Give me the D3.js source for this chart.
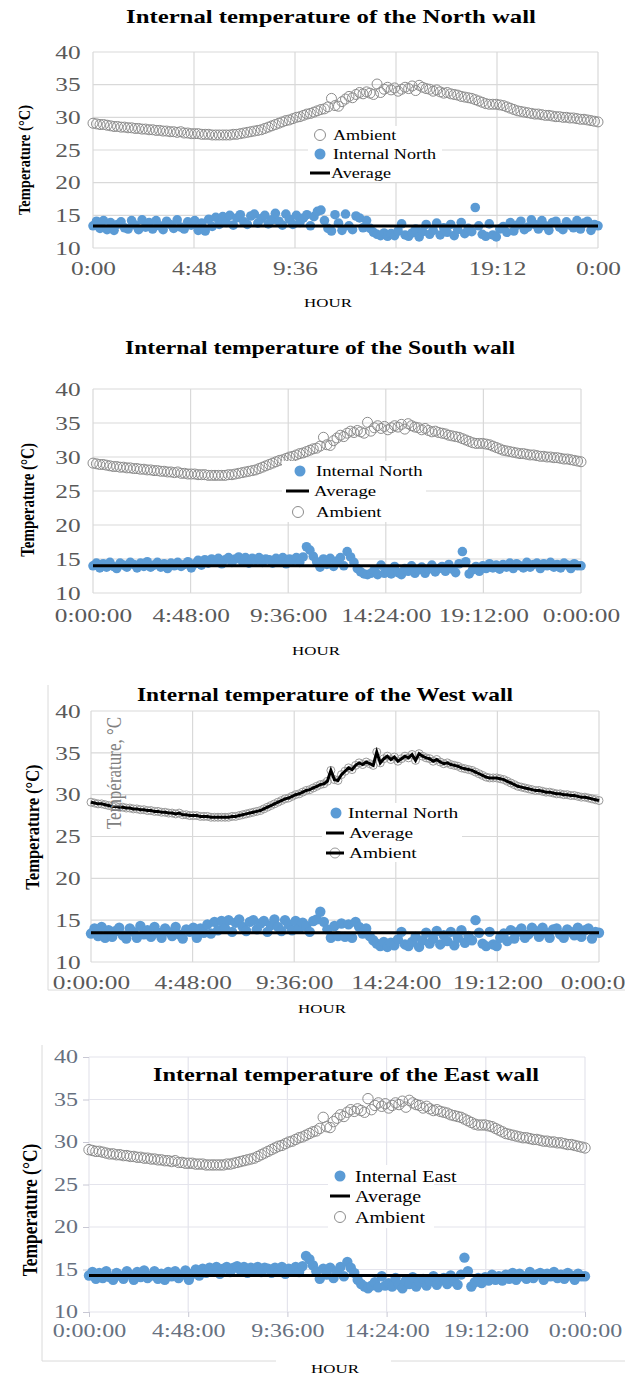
<!DOCTYPE html>
<html>
<head>
<meta charset="utf-8">
<script src="https://cdn.jsdelivr.net/npm/d3@7"></script>
<style>
body { margin: 0; background: #fff; }
svg { display: block; font-family: "Liberation Serif", "Times New Roman", serif; }
</style>
</head>
<body>
<div id="chart"></div>
<script>
// readings every 10 minutes, 0:00 -> 24:00
var hours = d3.range(145).map(function (i) { return i / 6; });

var ambient = [
    29.1, 29.0, 28.9, 28.9, 28.8, 28.7,
    28.6, 28.6, 28.5, 28.5, 28.4, 28.4,
    28.3, 28.3, 28.2, 28.2, 28.1, 28.1,
    28.0, 28.0, 27.9, 27.9, 27.8, 27.8,
    27.7, 27.8, 27.6, 27.6, 27.5, 27.5,
    27.5, 27.4, 27.4, 27.4, 27.3, 27.3,
    27.3, 27.3, 27.3, 27.3, 27.4, 27.4,
    27.5, 27.6, 27.7, 27.8, 27.9, 28.0,
    28.1, 28.3, 28.5, 28.7, 28.9, 29.1,
    29.3, 29.5, 29.6, 29.8, 30.0, 30.1,
    30.3, 30.5, 30.6, 30.8, 31.0, 31.2,
    31.3, 31.6, 32.9, 31.8, 31.7, 32.4,
    32.8, 33.2, 33.0, 33.5, 33.8, 33.6,
    33.9, 33.7, 33.5, 35.1, 33.8, 34.3,
    34.6, 34.2, 34.5, 34.0, 34.3, 34.6,
    34.4, 34.8, 34.1, 34.9, 34.6, 34.4,
    34.3, 34.0, 34.2, 33.9, 33.7, 33.8,
    33.6, 33.5, 33.4, 33.2, 33.1, 33.0,
    32.9, 32.7, 32.5, 32.3, 32.1, 32.0,
    32.0, 32.0, 31.9, 31.8, 31.6, 31.4,
    31.2, 31.0, 30.9, 30.8, 30.7, 30.6,
    30.5, 30.5, 30.4, 30.3, 30.3, 30.2,
    30.1, 30.1, 30.0, 30.0, 29.9, 29.9,
    29.8, 29.7, 29.7, 29.6, 29.5, 29.4,
    29.3];

var internalNorth = [
    13.4, 14.1, 13.0, 14.2, 12.8, 13.9,
    12.7, 13.6, 14.0, 13.1, 12.9, 14.2,
    13.5, 12.8, 14.3, 13.2, 13.9, 12.9,
    14.2, 13.4, 12.8, 14.1, 13.6, 13.0,
    14.3, 13.2, 12.9, 14.0, 13.5, 14.2,
    12.7, 13.8, 12.6, 14.4, 13.3, 14.7,
    13.6, 14.8, 13.9, 15.0, 13.5, 14.6,
    15.1, 14.0, 13.6, 14.9, 15.2, 13.8,
    14.5, 15.0, 13.7, 14.3, 15.3, 14.1,
    13.5, 15.2, 14.4, 13.6, 15.0, 13.9,
    14.6, 15.1, 13.4, 14.8, 15.6, 15.8,
    14.2, 13.0, 12.6, 15.1, 13.8, 12.7,
    15.2, 13.4, 12.8, 14.9, 14.6, 13.1,
    14.2, 13.0, 12.4, 12.1, 11.9, 12.3,
    11.8, 12.2, 11.9, 12.6, 13.7, 12.0,
    11.8, 12.3, 12.9, 11.7, 12.5, 13.6,
    12.1, 12.7, 13.8, 12.0, 13.1, 12.4,
    13.6, 11.9, 12.8, 13.9, 12.2, 13.0,
    12.5, 16.2, 13.4, 12.1, 11.8, 13.7,
    12.0, 11.7, 12.9, 13.3, 12.4, 13.9,
    12.6, 13.5, 14.1, 12.8, 13.2, 14.3,
    13.6, 12.9, 14.2, 13.4, 12.7, 13.9,
    14.1, 13.2, 12.8, 14.0, 13.5, 13.1,
    14.2, 12.9, 13.8, 14.1, 12.7, 13.6,
    13.4];

var internalSouth = [
    14.0, 14.4, 13.7, 14.3, 13.8, 14.5,
    13.9, 13.6, 14.4, 14.1, 13.8, 14.5,
    14.2, 13.7, 14.4, 13.9, 14.6, 13.8,
    14.1, 14.5, 13.8, 14.3, 13.6, 14.4,
    14.0, 14.5, 13.9, 14.2, 14.6, 13.7,
    14.3, 14.8, 14.1, 14.9, 14.4, 15.0,
    14.6, 15.1, 14.3, 14.9, 15.2, 14.5,
    15.0, 15.3, 14.7, 15.2, 14.4, 15.1,
    14.8, 15.2, 14.5, 15.0, 14.9, 14.4,
    15.1, 14.6, 15.2, 14.3, 15.0, 14.8,
    15.2, 14.5, 15.3, 16.8, 16.3, 15.4,
    14.6, 13.8, 15.0, 14.2, 15.1, 13.9,
    14.7, 15.2, 14.0, 16.1, 15.3, 14.5,
    13.6, 13.1, 12.8, 12.7, 12.9, 13.4,
    12.7, 14.1, 12.9, 13.3, 12.8, 13.9,
    13.0, 12.7, 13.6, 13.2, 14.0, 12.9,
    13.4, 13.8, 12.9, 13.5, 14.1, 13.1,
    13.6, 13.9, 13.2, 14.2, 13.5, 13.0,
    14.3, 16.1, 14.6, 12.8, 13.4, 13.9,
    13.2, 14.0, 13.6, 14.3, 13.7, 14.1,
    13.5, 14.2, 13.8, 14.4, 13.6, 14.3,
    14.0, 13.7, 14.5, 13.8, 14.2, 14.4,
    13.6, 14.3, 14.0, 14.5, 13.8, 14.2,
    13.7, 14.4, 14.1, 13.6, 14.3, 14.0,
    14.0];

var internalWest = [
    13.4, 14.0, 13.1, 14.2, 12.9, 13.8,
    13.0, 13.7, 14.1, 13.2, 12.8, 14.0,
    13.6, 12.9, 14.3, 13.3, 13.8, 13.0,
    14.2, 13.5, 12.9, 14.0, 13.6, 13.1,
    14.2, 13.3, 12.8, 13.9, 13.6, 14.1,
    12.9, 14.0, 13.5, 14.5, 13.4, 14.8,
    13.8, 14.9, 14.0, 15.0, 13.6, 14.7,
    15.1, 14.2, 13.7, 14.8, 15.0, 13.9,
    14.6, 14.9, 13.6, 14.4, 15.1, 14.2,
    13.7, 15.0, 14.5, 13.8, 14.9, 14.0,
    14.7, 14.3, 13.6, 14.9, 15.1, 16.0,
    14.8, 13.9, 12.9, 14.3, 13.1, 14.6,
    13.0, 14.5, 12.9, 14.8, 14.2, 13.4,
    14.0, 13.1, 12.6, 12.2, 11.9, 12.4,
    11.8, 12.3, 12.0, 12.7, 13.6, 12.1,
    11.9, 12.4, 13.0, 11.8, 12.6, 13.5,
    12.2, 12.8, 13.7, 12.1, 13.2, 12.5,
    13.6, 12.0, 12.9, 13.8, 12.3, 13.1,
    12.6, 15.0, 13.5, 12.2, 11.9, 13.6,
    12.1, 11.9, 12.9, 13.4, 12.5, 13.8,
    12.8, 13.6, 14.0, 12.9, 13.3, 14.1,
    13.7, 13.0, 14.1, 13.5, 12.9, 13.9,
    14.0, 13.3, 12.9, 13.9, 13.6, 13.2,
    14.1, 13.0, 13.8, 14.0, 12.8, 13.6,
    13.5];

var internalEast = [
    14.3, 14.7, 13.9, 14.6, 14.0, 14.8,
    14.1, 13.8, 14.6, 14.3, 13.9, 14.8,
    14.4, 13.8, 14.7, 14.1, 14.9, 14.0,
    14.3, 14.8, 13.9, 14.5, 13.8, 14.7,
    14.2, 14.8, 14.0, 14.4, 14.9, 13.8,
    14.5, 15.0, 14.3, 15.1, 14.6, 15.2,
    14.8, 15.3, 14.5, 15.1, 15.3, 14.7,
    15.2, 15.4, 14.9, 15.3, 14.6, 15.2,
    15.0, 15.3, 14.7, 15.2, 15.1, 14.6,
    15.2, 14.8, 15.3, 14.5, 15.1, 14.9,
    15.3, 14.7, 15.4, 16.6, 16.2, 15.5,
    14.8, 13.9, 15.1, 14.4, 15.2, 14.0,
    14.8, 15.3, 14.2, 15.9, 15.2, 14.6,
    13.8, 13.3, 13.0, 12.8, 13.1, 13.5,
    12.9, 14.2, 13.1, 13.4, 13.0, 14.0,
    13.2, 12.8, 13.7, 13.3, 14.1, 13.0,
    13.5, 13.9, 13.1, 13.6, 14.2, 13.2,
    13.7, 14.0, 13.3, 14.3, 13.6, 13.2,
    14.4, 16.4, 14.8, 13.0, 13.5, 14.0,
    13.4, 14.1, 13.7, 14.4, 13.8, 14.2,
    13.7, 14.4, 13.9, 14.6, 13.8, 14.5,
    14.2, 13.9, 14.7, 14.0, 14.4, 14.6,
    13.8, 14.5, 14.2, 14.7, 14.0, 14.4,
    13.9, 14.6, 14.3, 13.8, 14.5, 14.2,
    14.2];

// average line of each wall
var averages = { North: 13.35, South: 14.0, West: 13.5, East: 14.3 };

var tickHours = [0, 4.8, 9.6, 14.4, 19.2, 24];
var tickShort = ["0:00", "4:48", "9:36", "14:24", "19:12", "0:00"];
var tickLong = ["0:00:00", "4:48:00", "9:36:00", "14:24:00", "19:12:00", "0:00:00"];
var tempTicks = [10, 15, 20, 25, 30, 35, 40];

var SX = 1.3; // the source picture is stretched sideways
var BLUE = "#5b9bd5";

var panels = [
    {
        wall: "North", data: internalNorth, title: "Internal temperature of the North wall",
        x0: 93, x1: 598, yTop: 52, yBot: 248, titleX: 331, titleY: 23, titleW: 410,
        labels: tickShort, xPad: 13, yPad: 8.5, tickLen: 0, tickFont: 19.5, tickColor: "#595959", grid: "#d9d9d9",
        hourX: 328, hourY: 302, ytX: 24, ytY: 160, ytSize: 14.5, legFont: 14.5, dotR: 4.8, ambR: 5,
        box: [308, 126, 134, 56],
        legend: [
            { k: "amb", y: 135, mx: 320, tx: 333, label: "Ambient" },
            { k: "int", y: 154, mx: 320, tx: 333, label: "Internal North" },
            { k: "avg", y: 173, lx: [310, 330], tx: 331, label: "Average" }
        ]
    },
    {
        wall: "South", data: internalSouth, title: "Internal temperature of the South wall",
        x0: 93, x1: 581, yTop: 389, yBot: 593, titleX: 320, titleY: 354, titleW: 390,
        labels: tickLong, xPad: 15, yPad: 8.5, tickLen: 0, tickFont: 19.5, tickColor: "#595959", grid: "#d9d9d9",
        hourX: 316, hourY: 650, ytX: 28, ytY: 500, ytSize: 15, legFont: 15, dotR: 4.8, ambR: 5,
        box: [282, 461, 144, 61],
        legend: [
            { k: "int", y: 471, mx: 300, tx: 316, label: "Internal North" },
            { k: "avg", y: 491, lx: [286, 309], tx: 314, label: "Average" },
            { k: "amb", y: 512, mx: 298, tx: 316, label: "Ambient" }
        ]
    },
    {
        wall: "West", data: internalWest, title: "Internal temperature of the West wall",
        x0: 91, x1: 599, yTop: 711, yBot: 962, titleX: 325, titleY: 701, titleW: 376,
        labels: tickLong, xPad: 13, yPad: 7, tickLen: 0, tickFont: 19.5, tickColor: "#595959", grid: "#d9d9d9",
        hourX: 322, hourY: 1008, ytX: 32, ytY: 827, ytSize: 16.5, legFont: 15.5, dotR: 5.2, ambR: 4,
        box: [322, 803, 140, 59], ambLine: true,
        frame: [[48, 685, 48, 990], [48, 990, 625, 990]],
        legend: [
            { k: "int", y: 813, mx: 336, tx: 348, label: "Internal North" },
            { k: "avg", y: 833, lx: [326, 344], tx: 349, label: "Average" },
            { k: "ambline", y: 853, mx: 335, lx: [326, 344], tx: 349, label: "Ambient" }
        ]
    },
    {
        wall: "East", data: internalEast, title: "Internal temperature of the East wall",
        x0: 89, x1: 585, yTop: 1057, yBot: 1312, titleX: 346, titleY: 1081, titleW: 386,
        labels: tickLong, xPad: 7, yPad: 2.5, tickLen: 5, tickFont: 18.5, tickColor: "#66707f", grid: "#e4e4ec",
        hourX: 335, hourY: 1368, ytX: 30, ytY: 1210, ytSize: 17.5, legFont: 16, dotR: 5.2, ambR: 5.2,
        box: [328, 1165, 106, 63],
        frame: [[42, 1045, 42, 1361], [42, 1361, 276, 1361], [391, 1361, 625, 1361]],
        legend: [
            { k: "int", y: 1176, mx: 340, tx: 355, label: "Internal East" },
            { k: "avg", y: 1196, lx: [330, 350], tx: 355, label: "Average" },
            { k: "amb", y: 1217, mx: 340, tx: 355, label: "Ambient" }
        ]
    }
];

var svg = d3.select("#chart").append("svg").attr("width", 625).attr("height", 1376);

function stext(g, x, y, str, size, o) {
    o = o || {};
    return g.append("text")
        .attr("transform", "translate(" + x + "," + y + ") scale(" + (o.sx || SX) + ",1)")
        .attr("text-anchor", o.anchor || "start")
        .attr("dy", "0.35em")
        .attr("font-size", size)
        .attr("font-weight", o.weight || "normal")
        .attr("fill", o.fill || "#000")
        .text(str);
}

panels.forEach(function (p) {
    var g = svg.append("g");
    var x = d3.scaleLinear().domain([0, 24]).range([p.x0, p.x1]);
    var y = d3.scaleLinear().domain([10, 40]).range([p.yBot, p.yTop]);

    if (p.frame) {
        p.frame.forEach(function (f) {
            g.append("line").attr("x1", f[0]).attr("y1", f[1]).attr("x2", f[2]).attr("y2", f[3])
                .attr("stroke", "#dadada").attr("stroke-width", 1);
        });
    }

    // grid
    g.selectAll(".hg").data(tempTicks).enter().append("line")
        .attr("x1", p.x0).attr("x2", p.x1)
        .attr("y1", function (d) { return y(d); }).attr("y2", function (d) { return y(d); })
        .attr("stroke", p.grid).attr("stroke-width", 1.2);
    g.selectAll(".vg").data(tickHours).enter().append("line")
        .attr("x1", function (d) { return x(d); }).attr("x2", function (d) { return x(d); })
        .attr("y1", p.yTop).attr("y2", p.yBot)
        .attr("stroke", p.grid).attr("stroke-width", 1.2);

    // axes
    var ax = g.append("g").attr("transform", "translate(0," + p.yBot + ")")
        .call(d3.axisBottom(x).tickValues(tickHours)
            .tickFormat(function (d, i) { return p.labels[i]; })
            .tickSize(p.tickLen).tickPadding(p.xPad));
    var ay = g.append("g").attr("transform", "translate(" + p.x0 + ",0)")
        .call(d3.axisLeft(y).tickValues(tempTicks).tickSize(p.tickLen + 1).tickPadding(p.yPad));
    [ax, ay].forEach(function (a) {
        a.select(".domain").remove();
        a.attr("font-family", null).attr("font-size", p.tickFont);
        a.selectAll("line").attr("stroke", p.tickLen ? "#c8c8d4" : "none");
        a.selectAll("text").attr("fill", p.tickColor).attr("transform", "scale(" + SX + ",1)");
    });

    // ambient
    if (p.ambLine) {
        g.selectAll(".amb").data(ambient).enter().append("circle")
            .attr("cx", function (d, i) { return x(hours[i]); })
            .attr("cy", function (d) { return y(d); })
            .attr("r", p.ambR).attr("fill", "none").attr("stroke", "#9a9a9a").attr("stroke-width", 1);
        g.append("path").datum(ambient)
            .attr("d", d3.line().x(function (d, i) { return x(hours[i]); }).y(function (d) { return y(d); }))
            .attr("fill", "none").attr("stroke", "#000").attr("stroke-width", 3);
    } else {
        g.selectAll(".amb").data(ambient).enter().append("circle")
            .attr("cx", function (d, i) { return x(hours[i]); })
            .attr("cy", function (d) { return y(d); })
            .attr("r", p.ambR).attr("fill", "none").attr("stroke", "#8c8c8c").attr("stroke-width", 1);
    }

    // internal wall temperature
    g.selectAll(".int").data(p.data).enter().append("circle")
        .attr("cx", function (d, i) { return x(hours[i]); })
        .attr("cy", function (d) { return y(d); })
        .attr("r", p.dotR).attr("fill", BLUE);

    // average
    g.append("line")
        .attr("x1", x(0)).attr("x2", x(24))
        .attr("y1", y(averages[p.wall])).attr("y2", y(averages[p.wall]))
        .attr("stroke", "#000").attr("stroke-width", 3);

    // title
    g.append("text").attr("x", p.titleX).attr("y", p.titleY)
        .attr("text-anchor", "middle").attr("font-size", 19).attr("font-weight", "bold")
        .attr("textLength", p.titleW).attr("lengthAdjust", "spacingAndGlyphs")
        .text(p.title);

    stext(g, p.hourX, p.hourY, "HOUR", 13, { anchor: "middle" });

    g.append("text")
        .attr("transform", "translate(" + p.ytX + "," + p.ytY + ") scale(1.2,1) rotate(-90)")
        .attr("text-anchor", "middle").attr("dy", "0.35em")
        .attr("font-size", p.ytSize).attr("font-weight", "bold")
        .text("Temperature (\u00b0C)");

    if (p.wall === "West") {
        g.append("text")
            .attr("transform", "translate(114,773) scale(1.2,1) rotate(-90)")
            .attr("text-anchor", "middle").attr("dy", "0.35em")
            .attr("font-size", 17).attr("fill", "#808080")
            .text("Temp\u00e9rature, \u00b0C");
    }

    // legend
    g.append("rect").attr("x", p.box[0]).attr("y", p.box[1])
        .attr("width", p.box[2]).attr("height", p.box[3]).attr("fill", "#fff");
    p.legend.forEach(function (r) {
        if (r.k === "amb") {
            g.append("circle").attr("cx", r.mx).attr("cy", r.y).attr("r", 5.5)
                .attr("fill", "#fff").attr("stroke", "#8c8c8c").attr("stroke-width", 1);
        } else if (r.k === "int") {
            g.append("circle").attr("cx", r.mx).attr("cy", r.y).attr("r", 5.5).attr("fill", BLUE);
        } else if (r.k === "avg") {
            g.append("line").attr("x1", r.lx[0]).attr("x2", r.lx[1]).attr("y1", r.y).attr("y2", r.y)
                .attr("stroke", "#000").attr("stroke-width", 3);
        } else {
            g.append("circle").attr("cx", r.mx).attr("cy", r.y).attr("r", 5)
                .attr("fill", "#fff").attr("stroke", "#9a9a9a").attr("stroke-width", 1);
            g.append("line").attr("x1", r.lx[0]).attr("x2", r.lx[1]).attr("y1", r.y).attr("y2", r.y)
                .attr("stroke", "#000").attr("stroke-width", 3);
        }
        stext(g, r.tx, r.y, r.label, p.legFont, { sx: 1.25 });
    });
});
</script>
</body>
</html>
